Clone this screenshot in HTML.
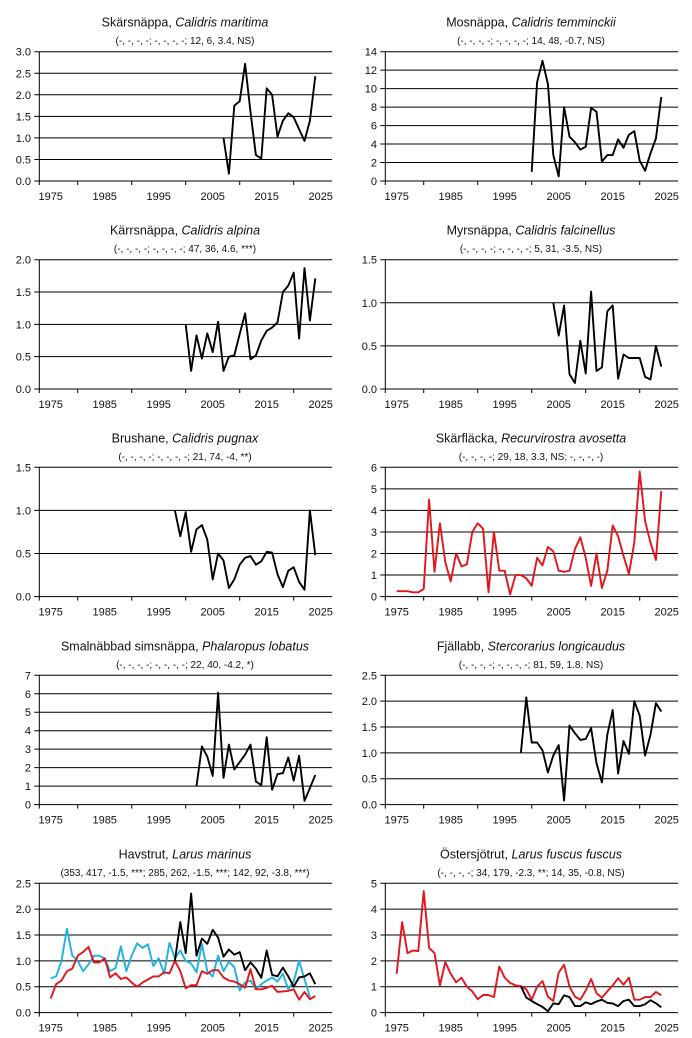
<!DOCTYPE html>
<html><head><meta charset="utf-8">
<style>
html,body{margin:0;padding:0;background:#fff;}
svg{display:block;font-family:"Liberation Sans",Arial,sans-serif;}
</style></head>
<body>
<svg id="fig" width="692" height="1038" viewBox="0 0 692 1038" xmlns="http://www.w3.org/2000/svg"></svg>
<script>
// ---- data ----
const titlesCommon = ["Skärsnäppa","Mosnäppa","Kärrsnäppa","Myrsnäppa","Brushane","Skärfläcka","Smalnäbbad simsnäppa","Fjällabb","Havstrut","Östersjötrut"];
const titlesLatin = ["Calidris maritima","Calidris temminckii","Calidris alpina","Calidris falcinellus","Calidris pugnax","Recurvirostra avosetta","Phalaropus lobatus","Stercorarius longicaudus","Larus marinus","Larus fuscus fuscus"];
const subtitles = ["(-, -, -, -; -, -, -, -; 12, 6, 3.4, NS)","(-, -, -, -; -, -, -, -; 14, 48, -0.7, NS)","(-, -, -, -; -, -, -, -; 47, 36, 4.6, ***)","(-, -, -, -; -, -, -, -; 5, 31, -3.5, NS)","(-, -, -, -; -, -, -, -; 21, 74, -4, **)","(-, -, -, -; 29, 18, 3.3, NS; -, -, -, -)","(-, -, -, -; -, -, -, -; 22, 40, -4.2, *)","(-, -, -, -; -, -, -, -; 81, 59, 1.8, NS)","(353, 417, -1.5, ***; 285, 262, -1.5, ***; 142, 92, -3.8, ***)","(-, -, -, -; 34, 179, -2.3, **; 14, 35, -0.8, NS)"];
const yMax = [3,14,2,1.5,1.5,6,7,2.5,2.5,5];
const yStep = [0.5,2,0.5,0.5,0.5,1,1,0.5,0.5,1];
const yDecimals = [1,0,1,1,1,0,0,1,1,0];
const xTickLabels = [1975,1985,1995,2005,2015,2025];

const maritimaStart = 2007;
const maritima = [1.0,0.17,1.75,1.85,2.72,1.6,0.6,0.52,2.15,2.0,1.03,1.4,1.57,1.48,1.2,0.93,1.4,2.43];
const temminckiiStart = 2000;
const temminckii = [1.0,10.7,13.0,10.5,2.8,0.5,8.0,4.8,4.2,3.4,3.7,7.9,7.5,2.1,2.8,2.8,4.5,3.6,5.0,5.4,2.2,1.1,3.0,4.6,9.1];
const alpinaStart = 2000;
const alpina = [1.0,0.28,0.83,0.47,0.86,0.57,1.04,0.28,0.5,0.52,0.85,1.17,0.46,0.52,0.75,0.9,0.95,1.03,1.5,1.6,1.8,0.78,1.87,1.06,1.71];
const falcinellusStart = 2004;
const falcinellus = [1.0,0.62,0.97,0.17,0.07,0.56,0.18,1.13,0.21,0.25,0.9,0.97,0.12,0.4,0.36,0.36,0.36,0.14,0.11,0.5,0.26];
const pugnaxStart = 1998;
const pugnax = [1.0,0.7,0.98,0.52,0.78,0.83,0.66,0.2,0.5,0.42,0.1,0.2,0.37,0.45,0.47,0.37,0.41,0.52,0.51,0.26,0.11,0.3,0.34,0.17,0.08,1.0,0.48];
const avosettaStart = 1975;
const avosetta = [0.25,0.25,0.25,0.2,0.2,0.35,4.5,1.15,3.4,1.6,0.7,2.0,1.4,1.5,3.0,3.4,3.15,0.2,3.0,1.2,1.2,0.1,1.0,1.0,0.85,0.5,1.8,1.45,2.3,2.1,1.2,1.15,1.2,2.2,2.75,1.8,0.5,2.0,0.4,1.2,3.3,2.8,1.9,1.05,2.5,5.8,3.5,2.5,1.7,4.9];
const lobatusStart = 2002;
const lobatus = [1.0,3.15,2.6,1.55,6.05,1.45,3.25,1.9,2.3,2.7,3.25,1.25,1.05,3.65,0.8,1.65,1.7,2.55,1.3,2.65,0.2,0.9,1.6];
const longicaudusStart = 1998;
const longicaudus = [1.0,2.07,1.2,1.2,1.05,0.62,0.95,1.15,0.08,1.53,1.38,1.25,1.27,1.48,0.8,0.43,1.35,1.83,0.6,1.23,0.98,2.0,1.72,0.95,1.35,1.96,1.8];
const marinusBlackStart = 1998;
const marinusBlack = [1.0,1.75,1.15,2.3,1.1,1.43,1.33,1.6,1.45,1.08,1.22,1.12,1.17,0.82,0.97,0.85,0.67,1.2,0.73,0.7,0.87,0.7,0.5,0.68,0.7,0.76,0.55];
const marinusBlueStart = 1975;
const marinusBlue = [0.66,0.7,1.0,1.62,1.1,1.0,0.8,0.93,1.1,1.1,1.05,0.8,0.86,1.28,0.8,1.1,1.34,1.25,1.32,0.9,1.05,0.75,1.35,1.05,1.2,1.0,0.95,0.78,1.33,0.8,0.7,1.1,0.8,0.98,0.88,0.43,0.58,0.62,0.45,0.55,0.62,0.68,0.6,0.75,0.45,0.6,1.0,0.65,0.3];
const marinusRedStart = 1975;
const marinusRed = [0.27,0.55,0.62,0.8,0.85,1.1,1.17,1.27,0.97,0.97,1.05,0.68,0.76,0.65,0.68,0.58,0.5,0.58,0.64,0.7,0.7,0.78,0.76,1.0,0.8,0.47,0.53,0.53,0.8,0.75,0.82,0.82,0.68,0.62,0.6,0.55,0.48,0.84,0.45,0.45,0.48,0.52,0.4,0.41,0.42,0.45,0.25,0.4,0.26,0.32];
const fuscusRedStart = 1975;
const fuscusRed = [1.5,3.5,2.3,2.4,2.38,4.7,2.5,2.3,1.05,1.95,1.5,1.17,1.35,1.0,0.82,0.52,0.68,0.68,0.6,1.78,1.35,1.15,1.05,1.02,0.9,0.5,1.0,1.22,0.62,0.45,1.55,1.85,1.0,0.62,0.5,0.85,1.3,0.75,0.58,0.82,1.05,1.33,1.08,1.35,0.5,0.5,0.6,0.6,0.8,0.67];
const fuscusBlackStart = 1998;
const fuscusBlack = [1.02,0.58,0.45,0.33,0.22,0.05,0.35,0.33,0.67,0.6,0.25,0.25,0.4,0.33,0.43,0.5,0.38,0.35,0.25,0.45,0.5,0.25,0.25,0.32,0.48,0.36,0.2];

const BLACK="#000", RED="#e3141b", BLUE="#1eb2e3";
const panelSeries = [
  [[maritimaStart,maritima,BLACK]],
  [[temminckiiStart,temminckii,BLACK]],
  [[alpinaStart,alpina,BLACK]],
  [[falcinellusStart,falcinellus,BLACK]],
  [[pugnaxStart,pugnax,BLACK]],
  [[avosettaStart,avosetta,RED]],
  [[lobatusStart,lobatus,BLACK]],
  [[longicaudusStart,longicaudus,BLACK]],
  [[marinusBlueStart,marinusBlue,BLUE],[marinusRedStart,marinusRed,RED],[marinusBlackStart,marinusBlack,BLACK]],
  [[fuscusRedStart,fuscusRed,RED],[fuscusBlackStart,fuscusBlack,BLACK]]
];

// ---- drawing ----
const NS="http://www.w3.org/2000/svg";
const svg=document.getElementById('fig');
function mk(tag,attrs,parent){const e=document.createElementNS(NS,tag);for(const k in attrs)e.setAttribute(k,attrs[k]);parent.appendChild(e);return e;}
const rowTops=[51.7,259.7,467.3,675.3,883.3];
const H=129.3;
for(let p=0;p<10;p++){
  const col=p%2,row=Math.floor(p/2);
  const L=col*346, T=rowTops[row], B=T+H;
  const axL=L+39.3, axR=L+332;
  const xs=yr=>L+77.7+(yr-1980)*5.4;
  const ys=v=>B-v/yMax[p]*H;
  const g=mk('g',{},svg);
  
  
  const t=mk('text',{x:L+185,y:T-25,'text-anchor':'middle','font-size':'12.5',fill:'#111'},g);
  
  
  t.appendChild(document.createTextNode(titlesCommon[p]+', '));
  const it=mk('tspan',{'font-style':'italic'},t);
  it.textContent=titlesLatin[p];
  const st=mk('text',{x:L+185,y:T-7.5,'text-anchor':'middle','font-size':'10',fill:'#111'},g);
  
  
  st.textContent=subtitles[p];
  // gridlines & y labels
  const n=Math.round(yMax[p]/yStep[p]);
  for(let i=0;i<=n;i++){
    const v=i*yStep[p], y=ys(v);
    const gl=mk('line',{x1:axL-5,x2:i===0?axR:axR,y1:y,y2:y,stroke:'#000','stroke-width':1},g);
    
    
    const yl=mk('text',{x:L+31,y:y+4,'text-anchor':'end','font-size':'11',fill:'#111'},g);
    
    
    yl.textContent=v.toFixed(yDecimals[p]);
  }
  const ya=mk('line',{x1:axL,x2:axL,y1:T,y2:B+4,stroke:'#000','stroke-width':1},g);
  
  
  for(let yr=1980;yr<=2020;yr+=10){
    const tk=mk('line',{x1:xs(yr),x2:xs(yr),y1:B,y2:B+4,stroke:'#000','stroke-width':1},g);
    
    
  }
  xTickLabels.forEach(yr=>{
    const xl=mk('text',{x:xs(yr),y:B+19,'text-anchor':'middle','font-size':'11',fill:'#111'},g);
    
    
    xl.textContent=yr;
  });
  panelSeries[p].forEach(s=>{
    const [start,vals,color]=s;
    const pts=vals.map((v,i)=>xs(start+i).toFixed(1)+','+ys(v).toFixed(1)).join(' ');
    const pl=mk('polyline',{points:pts,fill:'none',stroke:color,'stroke-width':1.9,'stroke-linejoin':'round'},g);
    
    
  });
}
</script>
</body></html>
